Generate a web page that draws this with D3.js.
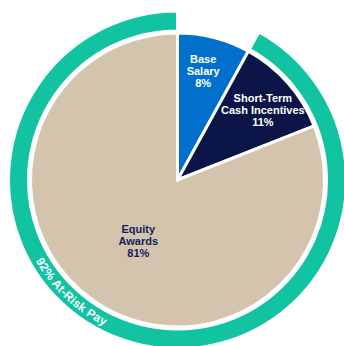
<!DOCTYPE html>
<html>
<head>
<meta charset="utf-8">
<script src="https://cdn.jsdelivr.net/npm/d3@7"></script>
<style>
  html, body { margin: 0; padding: 0; background: #fff; }
  svg { display: block; }
  text { font-family: "Liberation Sans", Arial, Helvetica, sans-serif; font-weight: bold; }
</style>
</head>
<body>
<svg id="chart" width="344" height="346"></svg>
<script>
// ---- data ----
const categories = ["Base Salary", "Short-Term Cash Incentives", "Equity Awards"];
const labelLines = [["Base", "Salary"], ["Short-Term", "Cash Incentives"], ["Equity", "Awards"]];
const values = [8, 11, 81];
const ringLabel = "92% At-Risk Pay";
const ringValue = 92;

// ---- styling / layout ----
const W = 344, H = 346;
const cx = 177.5, cy = 180;
const R = 147;
const ringInner = 149, ringOuter = 169;
const colors = ["#0070cc", "#0b1547", "#d4c4ae"];
const textColors = ["#ffffff", "#ffffff", "#15205a"];
const ringColor = "#12c3a1";
const labelRadius = [112, 110, 73];
const labelAngleShift = [-0.02, 0.04, -0.03];

const svg = d3.select("#chart");
const g = svg.append("g").attr("transform", `translate(${cx},${cy})`);

const pie = d3.pie().sort(null).value(d => d);
const arcs = pie(values);
const arc = d3.arc().innerRadius(0).outerRadius(R);

g.selectAll("path.slice")
  .data(arcs)
  .join("path")
  .attr("class", "slice")
  .attr("d", arc)
  .attr("fill", (d, i) => colors[i])
  .attr("stroke", "#fff")
  .attr("stroke-width", 3)
  .attr("stroke-linejoin", "miter");

// ring: the at-risk portion (everything after base salary)
const total = d3.sum(values);
const ringStart = (1 - ringValue / total) * 2 * Math.PI;
const ringArc = d3.arc().innerRadius(ringInner).outerRadius(ringOuter)
  .startAngle(ringStart).endAngle(2 * Math.PI);
g.append("path")
  .attr("d", ringArc())
  .attr("fill", ringColor)
  .attr("stroke", "#fff")
  .attr("stroke-width", 3);

// slice labels
const lineH = 12;
arcs.forEach((d, i) => {
  const a = (d.startAngle + d.endAngle) / 2 + labelAngleShift[i];
  const r = labelRadius[i];
  const x = r * Math.sin(a), y = -r * Math.cos(a);
  const lines = labelLines[i].concat([d.data + "%"]);
  const t = g.append("text")
    .attr("text-anchor", "middle")
    .attr("font-size", 11)
    .attr("fill", textColors[i]);
  lines.forEach((ln, k) => {
    t.append("tspan")
      .attr("x", x)
      .attr("y", y + (k - (lines.length - 1) / 2) * lineH)
      .attr("dy", "0.35em")
      .text(ln);
  });
});

// curved ring label (counter-clockwise path, letters facing centre)
const rt = (ringInner + ringOuter) / 2;
const a0 = 262 * Math.PI / 180, a1 = 185 * Math.PI / 180;
const p0 = [rt * Math.sin(a0), -rt * Math.cos(a0)];
const p1 = [rt * Math.sin(a1), -rt * Math.cos(a1)];
g.append("path")
  .attr("id", "ringTextPath")
  .attr("d", `M${p0[0]},${p0[1]} A${rt},${rt} 0 0 0 ${p1[0]},${p1[1]}`)
  .attr("fill", "none");
g.append("text")
  .attr("font-size", 12)
  .attr("fill", "#fff")
  .attr("dy", "0.35em")
  .append("textPath")
  .attr("href", "#ringTextPath")
  .attr("startOffset", "50%")
  .attr("text-anchor", "middle")
  .text(ringLabel);
</script>
</body>
</html>
